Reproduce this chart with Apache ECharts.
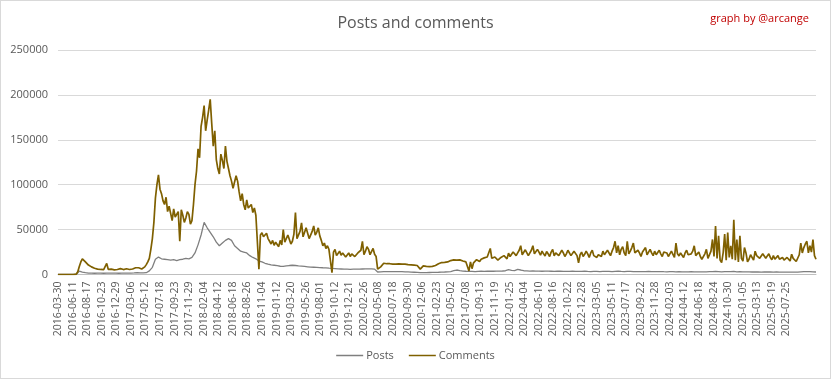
<!DOCTYPE html>
<html>
<head>
<meta charset="utf-8">
<script src="https://cdn.jsdelivr.net/npm/echarts@6/dist/echarts.min.js"></script>
<style>
html,body{margin:0;padding:0;background:#fff;}
#c{width:831px;height:379px;box-sizing:border-box;border:1px solid #d9d9d9;}
</style>
</head>
<body>
<div id="c"></div>
<script>
const tickLabels = ["2016-03-30","2016-06-11","2016-08-17","2016-10-23","2016-12-29","2017-03-06","2017-05-12","2017-07-18","2017-09-23","2017-11-29","2018-02-04","2018-04-12","2018-06-18","2018-08-26","2018-11-04","2019-01-12","2019-03-20","2019-05-26","2019-08-01","2019-10-12","2019-12-21","2020-02-26","2020-05-08","2020-07-18","2020-09-30","2020-12-06","2021-02-23","2021-05-02","2021-07-08","2021-09-13","2021-11-19","2022-01-25","2022-04-04","2022-06-10","2022-08-16","2022-10-22","2022-12-28","2023-03-05","2023-05-11","2023-07-17","2023-09-22","2023-11-28","2024-02-03","2024-04-12","2024-06-18","2024-08-24","2024-10-30","2025-01-05","2025-03-13","2025-05-19","2025-07-25"];
const labelEvery = 67;      // categories between two date labels
const postsStep = 14;       // categories between two posts samples
const commentsStep = 7;     // categories between two comments samples

const posts = [0,0,0,0,0,0,0,
3700,2700,2000,1600,
1500,1400,1500,1600,1400,1500,1500,1600,1500,1400,1500,1600,1500,1600,1700,
2200,1700,1800,2000,
4000,8000,17000,19400,17500,17000,16500,16000,16500,15500,16500,17000,18000,17500,19000,
24000,33000,44000,58000,52000,47000,42000,36000,32000,35000,38000,40000,38000,32000,29000,26000,25000,24000,21000,19000,17500,
15000,14000,12500,11500,10800,10300,9800,9200,9000,9500,10000,10300,10000,9600,9300,9000,8600,8200,8100,7900,7700,7500,7400,7000,
6800,6600,6300,6100,5900,5900,5800,5900,6000,6000,6100,6200,6300,6200,6000,
2800,3000,
3200,3300,3300,3200,3300,3200,3100,3000,2900,2700,2500,2300,2000,2000,2100,2200,2300,2400,2500,2700,2800,3000,3300,4200,5000,4300,3800,3600,3500,3400,3300,3500,3600,3500,3600,3700,3600,3700,3800,3900,4200,5300,4500,4300,5600,5000,4200,4000,3800,3900,3800,3700,3600,3800,
3700,3600,3500,3600,3700,3500,3400,3500,3600,3500,
3400,3500,3600,3400,3300,3500,3400,3300,3400,3500,
3400,3300,3500,3600,3400,3300,3500,3400,3300,3200,
3300,3200,3300,3400,3200,3100,3200,3300,3100,3000,
3100,3200,3000,3100,3000,2900,3000,3100,3000,2900,
3000,2900,3000,3200,3100,3400,3200,3000,3300,3100,
3200,3400,3000,3100,2900,3000,2900,2800,2900,2800,
2700,2800,2900,2800,2700,2800,2700,2600,2700,2600,
2700,2600,2700,3000,3200,3100,3300,3000,2800];

const comments = [
0,0,0,0,0,0,0,0,0,0,0,0,500,3000,
9000,14000,17500,16000,14000,12500,10500,9500,8500,7800,7000,6500,6000,6400,5600,5000,5500,5200,
12300,5800,5400,6000,5600,5200,6200,5600,5800,6600,6300,5500,5900,6400,6200,5600,5700,6100,6500,7500,9000,7500,5800,6200,7000,8500,11000,14000,
18000,28000,40000,58000,85000,100000,111000,95000,90000,82000,78000,86000,70000,76000,68000,60000,73000,64000,62000,70000,37000,72000,66000,58000,63000,70000,67000,56000,60000,78000,
100000,115000,140000,130000,165000,175000,188000,160000,172000,183000,195000,168000,143000,160000,128000,118000,112000,134000,127000,118000,143000,126000,118000,110000,104000,96000,98000,110000,104000,92000,82000,90000,78000,72000,83000,74000,72000,78000,69000,74000,66000,64000,
6000,44000,46500,42000,43000,46000,40000,37000,34000,38000,32500,36000,35000,31000,38000,33000,50000,36000,35000,44000,42000,34000,37000,45000,69000,40000,38000,48000,57500,42000,43000,52000,50000,40000,42000,48000,54000,44000,47000,52000,43000,38000,32000,35000,29000,32000,28000,30000,
2000,25000,28000,21000,23000,26000,21500,24000,22000,19500,21000,24000,20000,23000,22500,20000,19000,24000,22500,27000,37000,22000,26000,31000,28000,22000,24000,29000,22500,20000,
6000,7000,8500,10000,12500,13000,12000,11500,12000,12500,11500,12000,11500,11000,11800,11200,11500,12000,11500,11200,11000,11500,10800,10500,10500,11000,10000,9500,6000,8000,9600,10200,9000,9500,8800,9300,
9000,8500,10000,11000,12000,11000,13300,12500,13500,14500,14000,13000,15500,17000,16300,15000,16000,17500,16300,15200,15000,16000,14000,15000,4000,14000,6500,13000,
15000,16500,15500,14500,17000,15500,18500,16500,19500,17500,29000,18000,17000,19500,17500,16000,17000,19000,18000,21000,19000,17500,23700,20000,22000,25000,26000,21000,24000,27000,32000,22000,23700,27500,26000,21000,22500,27000,32000,23000,24000,28000,25000,21500,26000,23000,20700,25500,
23000,20000,25000,28000,20700,24000,26000,21000,22500,27000,24000,20000,23000,27000,25000,21000,22500,26000,25000,21000,13000,22000,25000,20000,22500,26000,23000,19000,24000,27000,21000,23000,19000,22000,24000,20000,26000,22000,24000,27000,25000,21000,26000,30000,37000,24000,32000,22000,28000,31000,24000,21000,
37000,23000,26000,30000,35000,24000,22500,27000,24000,20000,25000,27000,30000,22000,25000,28000,24000,21000,26000,22000,24000,27000,23000,20000,25000,27000,24000,20000,23000,26000,22500,19000,35000,23000,20700,24000,22000,19000,24000,27000,22000,20000,23000,26000,32000,21000,22000,25000,20000,17000,19000,23000,28000,18000,17000,26000,
39000,20000,54000,18000,43000,16000,13300,24000,45000,16000,46600,19000,32000,17000,61000,16000,39000,14000,43000,18000,15000,30000,24000,14000,17000,22000,20700,16000,26000,21000,22500,18000,19000,23000,24000,18000,20700,23000,19000,16500,21000,17000,18000,21000,17000,15000,19000,16000,15000,19000,17500,15000,22500,18000,17000,14500,15000,22000,35000,24000,30000,34000,37000,24000,32000,25000,39000,21000,17000];

const xMax = Math.max((posts.length - 1) * postsStep, (comments.length - 1) * commentsStep);
const toPairs = (arr, step) => arr.map((v, i) => [i * step, v]);

const chart = echarts.init(document.getElementById('c'));
const font = '"Open Sans", "Noto Sans", sans-serif';
chart.setOption({
  animation: false,
  backgroundColor: '#ffffff',
  title: [{
    text: 'Posts and comments',
    left: 'center', top: 9,
    textStyle: { fontFamily: font, fontSize: 16, fontWeight: 'normal', color: '#595959' }
  }, {
    text: 'graph by @arcange',
    right: 16, top: 7,
    textStyle: { fontFamily: font, fontSize: 11, fontWeight: 'normal', color: '#c00000' }
  }],
  legend: {
    bottom: 12, left: 'center',
    icon: 'rect', itemWidth: 27, itemHeight: 1.5, itemGap: 15,
    textStyle: { fontFamily: font, fontSize: 11, color: '#595959', padding: [0, 0, 0, -2] },
    data: ['Posts', 'Comments']
  },
  grid: { left: 57, right: 14, top: 49, bottom: 103.5, containLabel: false },
  xAxis: {
    type: 'value', min: 0, max: xMax, interval: labelEvery,
    axisLine: { show: true, lineStyle: { color: '#bfbfbf', width: 1 } },
    axisTick: { show: false },
    splitLine: { show: false },
    axisLabel: {
      rotate: 90, margin: 7, fontFamily: font, fontSize: 10.5, color: '#595959',
      showMaxLabel: false,
      formatter: v => (v % labelEvery === 0 && tickLabels[v / labelEvery]) ? tickLabels[v / labelEvery] : ''
    }
  },
  yAxis: {
    type: 'value', min: 0, max: 250000, interval: 50000,
    axisLine: { show: false }, axisTick: { show: false },
    splitLine: { lineStyle: { color: '#d9d9d9', width: 1 } },
    axisLabel: { margin: 10, fontFamily: font, fontSize: 11, color: '#595959', formatter: v => String(v) }
  },
  series: [{
    name: 'Posts', type: 'line', symbol: 'none', data: toPairs(posts, postsStep),
    lineStyle: { color: '#7f7f7f', width: 1.3 }, itemStyle: { color: '#7f7f7f' }
  }, {
    name: 'Comments', type: 'line', symbol: 'none', data: toPairs(comments, commentsStep),
    lineStyle: { color: '#7f6000', width: 1.7 }, itemStyle: { color: '#7f6000' }
  }]
});
</script>
</body>
</html>
